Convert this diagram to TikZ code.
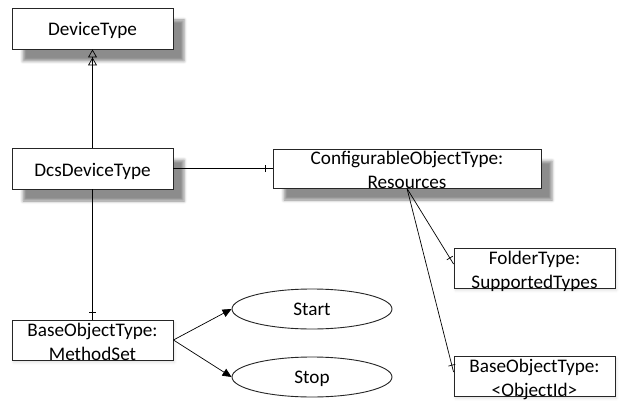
\documentclass[tikz,border=0pt]{standalone}
\usepackage{fontspec}
\setmainfont{Carlito}
\usetikzlibrary{arrows.meta,shapes.geometric,shadows.blur,decorations.markings}

\begin{document}
\begin{tikzpicture}[x=1pt,y=-1pt,
  font=\fontsize{19.2}{23.4}\selectfont,
  box/.style={draw=black!85, line width=0.9pt, fill=white, rectangle, inner sep=0pt},
  onebox/.style={box, text height=15pt, text depth=0pt},
  shadowed/.style={blur shadow={shadow xshift=11pt, shadow yshift=-12pt,
      shadow blur radius=3pt, shadow opacity=45}},
  faint/.style={blur shadow={shadow xshift=1.5pt, shadow yshift=-2.5pt,
      shadow blur radius=2.5pt, shadow opacity=12}},
  usecase/.style={draw=black!85, line width=0.9pt, fill=white, ellipse,
      minimum width=160pt, minimum height=40pt, inner sep=0pt,
      text height=12.4pt, text depth=0pt},
  lbl/.style={inner sep=0pt, anchor=base},
  conn/.style={draw=black, line width=0.7pt},
  onetick/.style={postaction={decorate, decoration={markings,
      mark=at position -7pt with {\draw[line width=0.7pt] (0pt,-3.5pt) -- (0pt,3.5pt);}}}},
  inherit/.style={-{Triangle[open,length=8pt,width=9pt] Triangle[open,length=8pt,width=9pt]}},
  calls/.style={-{Triangle[length=9pt,width=8pt]}}
]
\useasboundingbox (0,0) rectangle (620,401);

% class boxes with drop shadows
\node[onebox, shadowed, minimum width=161pt, minimum height=41pt] (dev) at (92.5,28.5) {DeviceType};
\node[onebox, shadowed, minimum width=161pt, minimum height=41pt] (dcs) at (92.5,168.5) {DcsDeviceType};
\node[box, shadowed, minimum width=268pt, minimum height=39pt] (conf) at (407,168.5) {};

% plain boxes
\node[box, faint, minimum width=161pt, minimum height=40pt] (meth) at (92.5,340) {};
\node[box, faint, minimum width=161pt, minimum height=40pt] (fold) at (534.5,268) {};
\node[box, faint, minimum width=161pt, minimum height=40pt] (objid) at (534.5,376) {};

% methods
\node[usecase] (start) at (312,309) {Start};
\node[usecase] (stop) at (312,377) {Stop};

% two-line labels
\node[lbl] at (407,164) {ConfigurableObjectType:};
\node[lbl] at (407,188) {Resources};
\node[lbl] at (92.5,336) {BaseObjectType:};
\node[lbl] at (92.5,360) {MethodSet};
\node[lbl] at (534.5,264) {FolderType:};
\node[lbl] at (534.5,288) {SupportedTypes};
\node[lbl] at (534.5,372) {BaseObjectType:};
\node[lbl] at (534.5,396) {<ObjectId>};

% connectors
\draw[conn, inherit] (dcs) -- (dev);
\draw[conn, onetick] (dcs) -- (conf);
\draw[conn, onetick] (dcs) -- (meth);
\draw[conn, onetick] (conf.south) -- ([yshift=4pt]fold.west);
\draw[conn, onetick] (conf.south) -- ([yshift=4pt]objid.west);
\draw[conn, calls] (meth.east) -- (start.west);
\draw[conn, calls] (meth.east) -- (stop.west);
\end{tikzpicture}
\end{document}
